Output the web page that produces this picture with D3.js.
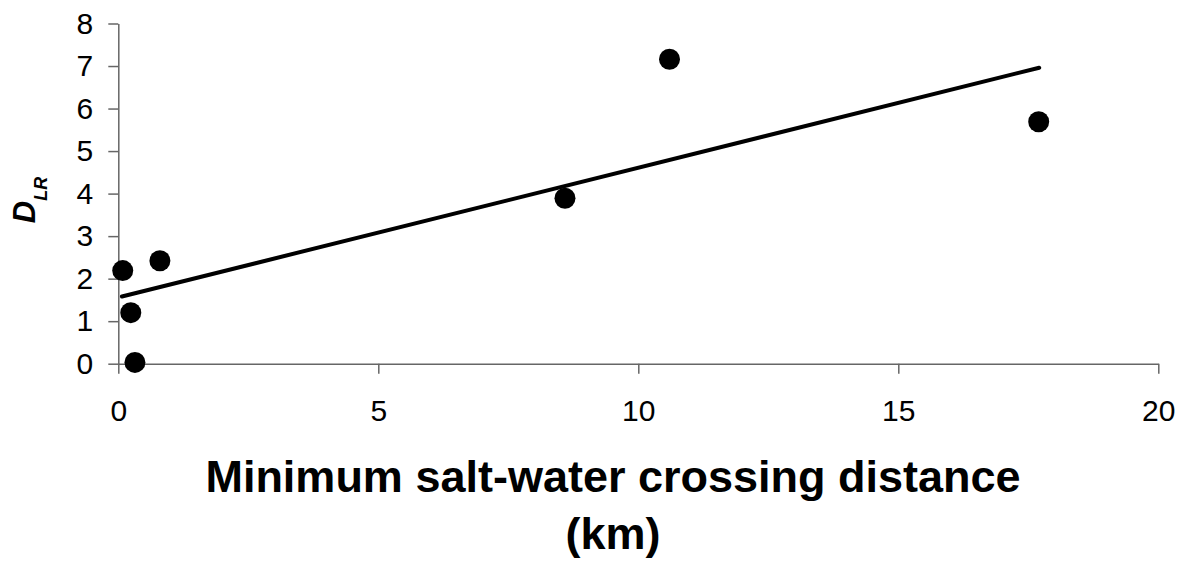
<!DOCTYPE html>
<html><head><meta charset="utf-8">
<script src="https://cdn.jsdelivr.net/npm/d3@7"></script>
<style>body{margin:0;background:#fff}svg{display:block}text{font-family:Arial,"Liberation Sans",sans-serif}</style>
</head><body>
<svg id="c" width="1194" height="563"></svg>
<script>
const xValues = [0.085, 0.80, 0.24, 0.32, 8.59, 10.6, 17.7];
const yValues = [2.19, 2.42, 1.20, 0.03, 3.89, 7.16, 5.69];
const trendX = [0.07, 17.71];
const trendY = [1.58, 6.96];
const xTicks = [0, 5, 10, 15, 20];
const yTicks = [0, 1, 2, 3, 4, 5, 6, 7, 8];

const svg = d3.select("#c");
const x = d3.scaleLinear().domain([0, 20]).range([118.3, 1158.3]);
const y = d3.scaleLinear().domain([0, 8]).range([363.7, 23.5]);

const xAxis = svg.append("g").attr("transform", `translate(0,${y(0)})`)
  .call(d3.axisBottom(x).tickValues(xTicks).tickSize(10).tickPadding(26).tickSizeOuter(0));
const yAxis = svg.append("g").attr("transform", `translate(${x(0)},0)`)
  .call(d3.axisLeft(y).tickValues(yTicks).tickSize(10).tickPadding(15).tickSizeOuter(0));
[xAxis, yAxis].forEach(g => {
  g.attr("font-size", 30).attr("font-family", "Arial, 'Liberation Sans', sans-serif");
  g.select(".domain").attr("stroke", "#666").attr("stroke-width", 1.5);
  g.selectAll(".tick line").attr("stroke", "#666").attr("stroke-width", 1.5);
  g.selectAll(".tick text").attr("fill", "#000").style("font-size", "30px");
});

const pts = xValues.map((v, i) => [v, yValues[i]]);
svg.append("g").selectAll("circle").data(pts).join("circle")
  .attr("cx", d => x(d[0])).attr("cy", d => y(d[1])).attr("r", 10.5).attr("fill", "#000");

svg.append("path").datum(trendX.map((v, i) => [v, trendY[i]]))
  .attr("d", d3.line().x(d => x(d[0])).y(d => y(d[1])))
  .attr("stroke", "#000").attr("stroke-width", 4).attr("stroke-linecap", "round").attr("fill", "none");

const yl = svg.append("text").attr("transform", "translate(35,200) rotate(-90)")
  .attr("text-anchor", "middle").attr("font-size", 31).attr("font-weight", "bold").attr("font-style", "italic");
yl.append("tspan").text("D");
yl.append("tspan").text("LR").attr("font-size", 18).attr("dy", 12);

svg.append("text").attr("x", 613).attr("y", 492).attr("text-anchor", "middle")
  .attr("font-size", 45).attr("font-weight", "bold").text("Minimum salt-water crossing distance");
svg.append("text").attr("x", 613).attr("y", 549).attr("text-anchor", "middle")
  .attr("font-size", 45).attr("font-weight", "bold").text("(km)");
</script>
</body></html>
